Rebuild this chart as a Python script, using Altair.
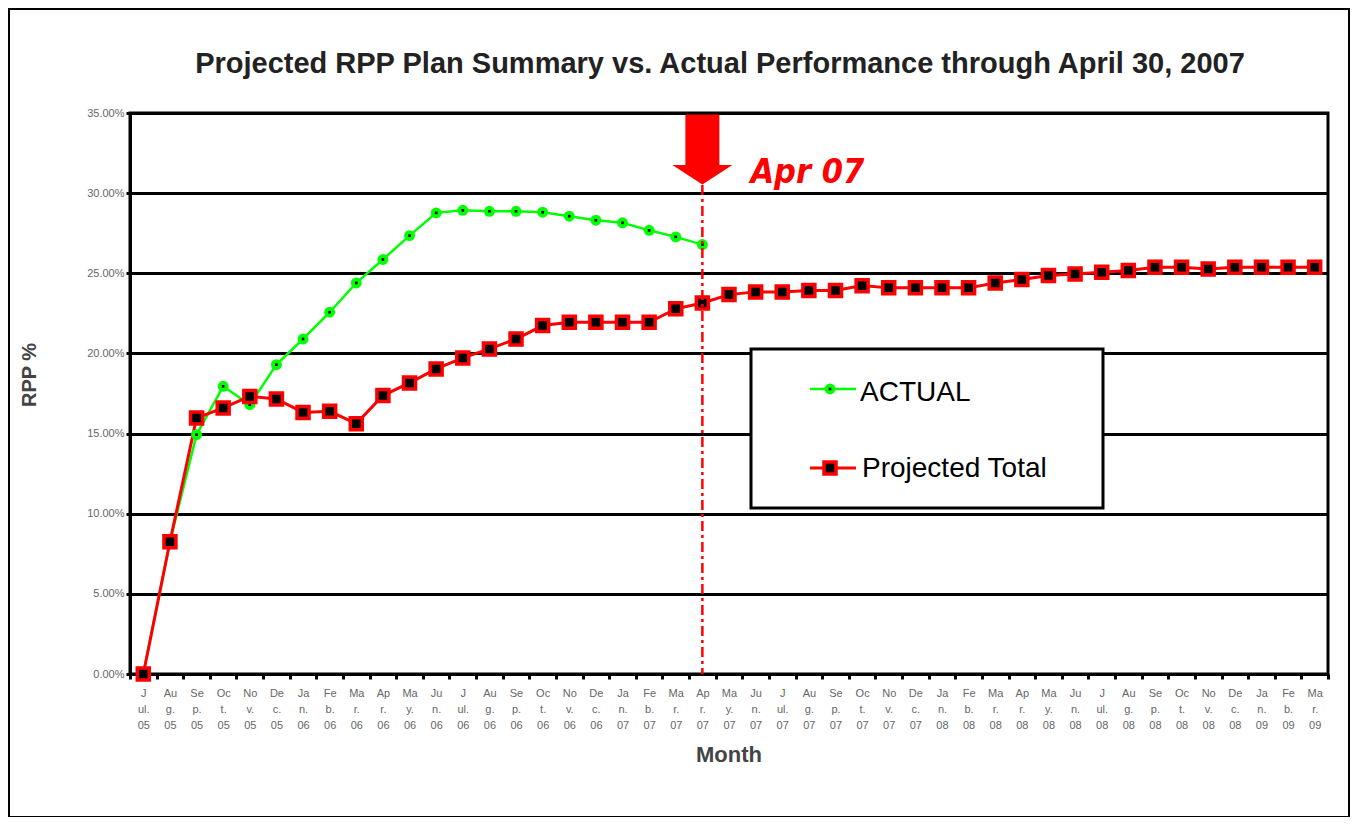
import altair as alt
import pandas as pd

# ---------------- data ----------------
months = [
    "J|ul.|05", "Au|g.|05", "Se|p.|05", "Oc|t.|05", "No|v.|05", "De|c.|05",
    "Ja|n.|06", "Fe|b.|06", "Ma|r.|06", "Ap|r.|06", "Ma|y.|06", "Ju|n.|06",
    "J|ul.|06", "Au|g.|06", "Se|p.|06", "Oc|t.|06", "No|v.|06", "De|c.|06",
    "Ja|n.|07", "Fe|b.|07", "Ma|r.|07", "Ap|r.|07", "Ma|y.|07", "Ju|n.|07",
    "J|ul.|07", "Au|g.|07", "Se|p.|07", "Oc|t.|07", "No|v.|07", "De|c.|07",
    "Ja|n.|08", "Fe|b.|08", "Ma|r.|08", "Ap|r.|08", "Ma|y.|08", "Ju|n.|08",
    "J|ul.|08", "Au|g.|08", "Se|p.|08", "Oc|t.|08", "No|v.|08", "De|c.|08",
    "Ja|n.|09", "Fe|b.|09", "Ma|r.|09",
]

actual = [
    0.00, 8.25, 14.93, 17.95, 16.80, 19.30, 20.90, 22.57, 24.40, 25.86, 27.35,
    28.77, 28.93, 28.87, 28.87, 28.81, 28.56, 28.31, 28.15, 27.68, 27.27, 26.79,
]

projected = [
    0.00, 8.25, 15.97, 16.60, 17.32, 17.16, 16.32, 16.39, 15.62, 17.37, 18.16,
    19.03, 19.72, 20.28, 20.90, 21.74, 21.94, 21.94, 21.94, 21.94, 22.78, 23.15,
    23.67, 23.84, 23.84, 23.92, 23.92, 24.23, 24.09, 24.09, 24.09, 24.09, 24.40,
    24.61, 24.86, 24.96, 25.06, 25.17, 25.37, 25.37, 25.27, 25.37, 25.37, 25.37,
    25.37,
]

y_ticks = [0, 5, 10, 15, 20, 25, 30, 35]
series_names = ["ACTUAL", "Projected Total"]
marker_month = "Ap|r.|07"
marker_text = "Apr 07"
title_text = "Projected RPP Plan Summary vs. Actual Performance through April 30, 2007"
x_title = "Month"
y_title = "RPP %"

GREEN = "#00ff00"
RED = "#ff0000"
FONT = "Liberation Sans"

act_df = pd.DataFrame({"month": months[: len(actual)], "value": actual})
proj_df = pd.DataFrame({"month": months, "value": projected})
mark_df = pd.DataFrame({"month": [marker_month], "label": [marker_text]})
one = pd.DataFrame({"k": [0]})

W, H = 1198, 561

x_axis = alt.Axis(
    labelExpr="split(datum.label, '|')",
    labelAngle=0,
    labelFont=FONT,
    labelFontSize=11,
    labelLineHeight=16,
    labelColor="#666666",
    labelPadding=8,
    labelOverlap=False,
    tickBand="extent",
    tickSize=5,
    tickWidth=3,
    tickColor="black",
    domainColor="black",
    domainWidth=3,
    grid=False,
    title=None,
)
y_axis = alt.Axis(
    values=y_ticks,
    labelExpr="format(datum.value, '.2f') + '%'",
    labelFont=FONT,
    labelFontSize=11,
    labelColor="#666666",
    labelPadding=2,
    tickSize=4,
    tickWidth=3,
    tickColor="black",
    domainColor="black",
    domainWidth=3,
    grid=True,
    gridColor="black",
    gridWidth=3,
    title=None,
)

x_scale = alt.Scale(type="band", domain=months, paddingInner=0, paddingOuter=0)
y_scale = alt.Scale(domain=[0, 35], nice=False, zero=True)


def X():
    return alt.X("month:N", scale=x_scale, axis=x_axis, bandPosition=0.5)


def Y():
    return alt.Y("value:Q", scale=y_scale, axis=y_axis)


# outer frame
frame = alt.Chart(one).mark_rect(fillOpacity=0, stroke="black", strokeWidth=2).encode(
    x=alt.value(-121), x2=alt.value(1219), y=alt.value(-104), y2=alt.value(704)
)

green_line = alt.Chart(act_df).mark_line(color=GREEN, strokeWidth=2.5).encode(x=X(), y=Y())
green_pts = alt.Chart(act_df).mark_point(
    shape="circle", filled=True, color=GREEN, size=120, opacity=1
).encode(x=X(), y=Y())
green_dot = alt.Chart(act_df).mark_point(
    shape="square", filled=True, color="black", size=7, opacity=1
).encode(x=X(), y=Y())

red_line = alt.Chart(proj_df).mark_line(color=RED, strokeWidth=3).encode(x=X(), y=Y())
red_pts = alt.Chart(proj_df).mark_point(
    shape="square", filled=True, fill="black", stroke=RED, strokeWidth=3.5, size=144, opacity=1
).encode(x=X(), y=Y())

# Apr 07 marker: dash-dot rule, arrow, label
vrule = alt.Chart(mark_df).mark_rule(color=RED, strokeWidth=2.5, strokeDash=[10, 4, 3, 4]).encode(
    x=X(), y=alt.value(72), y2=alt.value(H)
)
arrow_path = "M-0.486,-1 L0.486,-1 L0.486,0.443 L0.857,0.443 L0,1 L-0.857,0.443 L-0.486,0.443 Z"
arrow = alt.Chart(mark_df).mark_point(
    shape=arrow_path, filled=True, color=RED, size=4900, opacity=1, strokeWidth=0
).encode(x=X(), y=alt.value(36.5))
arrow_label = alt.Chart(mark_df).mark_text(
    align="left", baseline="alphabetic", dx=48,
    font="DejaVu Sans Condensed, Liberation Sans",
    fontSize=34, fontWeight="bold", fontStyle="italic", color=RED,
).encode(x=X(), y=alt.value(70), text="label:N")

# legend box
leg_box = alt.Chart(one).mark_rect(fill="white", stroke="black", strokeWidth=3).encode(
    x=alt.value(621), x2=alt.value(973), y=alt.value(236), y2=alt.value(395)
)
leg_g_line = alt.Chart(one).mark_rule(color=GREEN, strokeWidth=2.5).encode(
    x=alt.value(680), x2=alt.value(726), y=alt.value(276)
)
leg_g_pt = alt.Chart(one).mark_point(shape="circle", filled=True, color=GREEN, size=120, opacity=1).encode(
    x=alt.value(700), y=alt.value(276)
)
leg_g_dot = alt.Chart(one).mark_point(shape="square", filled=True, color="black", size=7, opacity=1).encode(
    x=alt.value(700), y=alt.value(276)
)
leg_g_txt = alt.Chart(one).mark_text(
    align="left", baseline="alphabetic", font=FONT, fontSize=28, color="black"
).encode(x=alt.value(730), y=alt.value(288), text=alt.value(series_names[0]))

leg_r_line = alt.Chart(one).mark_rule(color=RED, strokeWidth=3).encode(
    x=alt.value(680), x2=alt.value(726), y=alt.value(355)
)
leg_r_pt = alt.Chart(one).mark_point(
    shape="square", filled=True, fill="black", stroke=RED, strokeWidth=3.5, size=144, opacity=1
).encode(x=alt.value(700), y=alt.value(355))
leg_r_txt = alt.Chart(one).mark_text(
    align="left", baseline="alphabetic", font=FONT, fontSize=28, color="black"
).encode(x=alt.value(732), y=alt.value(364), text=alt.value(series_names[1]))

# titles
title = alt.Chart(one).mark_text(
    align="center", baseline="alphabetic", font=FONT, fontSize=29, fontWeight="bold", color="#222222"
).encode(x=alt.value(590), y=alt.value(-40), text=alt.value(title_text))
ytitle = alt.Chart(one).mark_text(
    align="center", baseline="middle", angle=270, font=FONT, fontSize=20, fontWeight="bold", color="#444444"
).encode(x=alt.value(-100), y=alt.value(262), text=alt.value(y_title))
xtitle = alt.Chart(one).mark_text(
    align="center", baseline="middle", font=FONT, fontSize=22, fontWeight="bold", color="#444444"
).encode(x=alt.value(599), y=alt.value(642), text=alt.value(x_title))

chart = alt.layer(
    frame, green_line, red_line, green_pts, green_dot, red_pts,
    vrule, arrow, arrow_label,
    leg_box, leg_g_line, leg_g_pt, leg_g_dot, leg_g_txt,
    leg_r_line, leg_r_pt, leg_r_txt,
    title, ytitle, xtitle,
).properties(
    width=W, height=H,
    padding={"left": 122, "top": 105, "right": 23, "bottom": 143},
    autosize=alt.AutoSizeParams(type="none"),
    background="white",
).configure_view(stroke="black", strokeWidth=3)

chart.save("out.html", embed_options={"renderer": "svg", "actions": False})
